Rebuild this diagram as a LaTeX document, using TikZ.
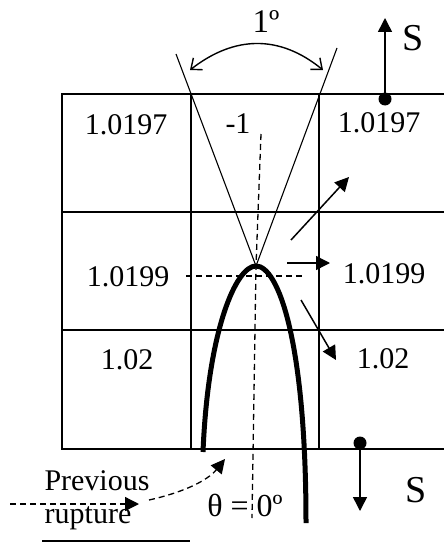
\documentclass[tikz,border=0pt]{standalone}
\usepackage{fontspec}
\setmainfont{Liberation Serif}
\usetikzlibrary{arrows.meta}

\begin{document}
\begin{tikzpicture}[
    x=1pt, y=-1pt,
    every node/.style={inner sep=0pt, align=center},
    cellval/.style={font=\fontsize{30}{31}\selectfont},
    biglbl/.style={font=\fontsize{38}{40}\selectfont},
    gridline/.style={line width=1.4pt},
    wedge/.style={line width=1.1pt},
    crack/.style={line width=5pt},
    guide/.style={line width=1.3pt, dash pattern=on 6pt off 4pt},
    vec/.style={-{Triangle[length=14pt,width=14pt]}, line width=1.5pt},
    spin/.style={{Straight Barb[length=9pt,width=15pt]}-{Straight Barb[length=9pt,width=15pt]}, line width=1.4pt}
]
\useasboundingbox (0,0) rectangle (444,543);

% grid of cells
\draw[gridline] (444,94) -- (62,94) -- (62,449) -- (444,449);
\draw[gridline] (62,212) -- (444,212);
\draw[gridline] (62,330) -- (444,330);
\draw[gridline] (191,94) -- (191,449);
\draw[gridline] (319,94) -- (319,449);

% cell values
\node[cellval] (v11) at (126,125) {1.0197};
\node[cellval] (v12) at (238,124) {-1};
\node[cellval] (v13) at (379,123) {1.0197};
\node[cellval] (v21) at (128,277) {1.0199};
\node[cellval] (v23) at (384,274) {1.0199};
\node[cellval] (v31) at (127,360) {1.02};
\node[cellval] (v33) at (383,359) {1.02};

% wedge and crack tip
\coordinate (tip) at (256,266);
\coordinate (wl) at (176,54);
\coordinate (wr) at (337,48);
\draw[wedge] (wl) -- (tip) -- (wr);
\draw[spin] (190,70) .. controls (235,35) and (280,35) .. (323,70);
\node[font=\fontsize{33}{34}\selectfont] (ang) at (266,22) {1º};

% guide lines
\draw[guide] (261,134) -- (tip) -- (252,518);
\draw[guide] (186,276) -- (305,276);

% crack
\draw[crack] (203,452) .. controls (208,330) and (236,266) .. (tip)
    .. controls (278,266) and (306,340) .. (306,523);

% growth directions
\coordinate (d1) at (291,240);
\coordinate (d1e) at (349,177);
\coordinate (d2) at (287,263);
\coordinate (d2e) at (330,263);
\coordinate (d3) at (301,300);
\coordinate (d3e) at (336,360);
\draw[vec] (d1) -- (d1e);
\draw[vec] (d2) -- (d2e);
\draw[vec] (d3) -- (d3e);

% stress
\coordinate (sa) at (385,99);
\coordinate (sae) at (385,18);
\coordinate (sb) at (360,443);
\coordinate (sbe) at (360,511);
\fill (sa) circle (6.5);
\fill (sb) circle (6.5);
\draw[vec] (sa) -- (sae);
\draw[vec] (sb) -- (sbe);
\node[biglbl] (s1) at (413,38) {S};
\node[biglbl] (s2) at (416,490) {S};

% previous rupture
\node[cellval] (prev) at (97,481) {Previous};
\node[cellval] (rupt) at (88,518) {rupture};
\coordinate (pin) at (10,504);
\coordinate (pine) at (139,504);
\coordinate (pc) at (149,500);
\coordinate (pce) at (225,459);
\draw[guide, -{Triangle[length=14pt,width=14pt]}] (pin) -- (pine);
\draw[guide, -{Triangle[length=14pt,width=14pt]}] (pc) .. controls (185,492) and (208,480) .. (pce);
\draw[line width=1.4pt] (42,541) -- (190,541);
\node[font=\fontsize{32}{33}\selectfont] (th) at (245,505) {θ = 0º};
\end{tikzpicture}
\end{document}
